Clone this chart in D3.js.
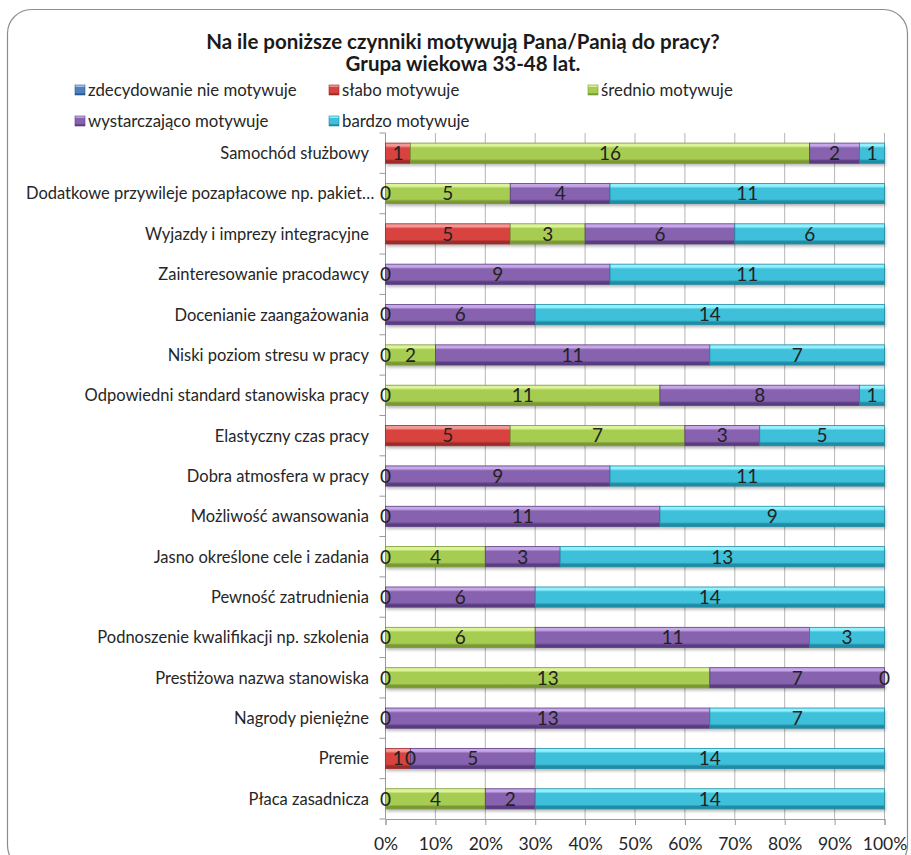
<!DOCTYPE html>
<html>
<head>
<meta charset="utf-8">
<script src="https://cdn.jsdelivr.net/npm/d3@7"></script>
<style>
  html, body { margin: 0; padding: 0; background: #fff; }
  svg { display: block; }
  text { font-family: Lato, "Open Sans", sans-serif; }
</style>
</head>
<body>
<svg id="chart" width="911" height="855"></svg>
<script>
// ---------- data ----------
const titleLines = ["Na ile poniższe czynniki motywują Pana/Panią do pracy?", "Grupa wiekowa 33-48 lat."];
const categories = [
  "Samochód służbowy",
  "Dodatkowe przywileje pozapłacowe np. pakiet…",
  "Wyjazdy i imprezy integracyjne",
  "Zainteresowanie pracodawcy",
  "Docenianie zaangażowania",
  "Niski poziom stresu w pracy",
  "Odpowiedni standard stanowiska pracy",
  "Elastyczny czas pracy",
  "Dobra atmosfera w pracy",
  "Możliwość awansowania",
  "Jasno określone cele i zadania",
  "Pewność zatrudnienia",
  "Podnoszenie kwalifikacji np. szkolenia",
  "Prestiżowa nazwa stanowiska",
  "Nagrody pieniężne",
  "Premie",
  "Płaca zasadnicza"
];
const seriesNames = ["zdecydowanie nie motywuje", "słabo motywuje", "średnio motywuje", "wystarczająco motywuje", "bardzo motywuje"];
// null = no value (no bar, no label)
const zdecydowanieNie = [null, null, null, null, null, null, null, null, null, null, null, null, null, null, null, null, null];
const slabo          = [1, 0, 5, 0, 0, 0, 0, 5, 0, 0, 0, 0, 0, 0, 0, 1, 0];
const srednio        = [16, 5, 3, null, null, 2, 11, 7, null, null, 4, null, 6, 13, null, 0, 4];
const wystarczajaco  = [2, 4, 6, 9, 6, 11, 8, 3, 9, 11, 3, 6, 11, 7, 13, 5, 2];
const bardzo         = [1, 11, 6, 11, 14, 7, 1, 5, 11, 9, 13, 14, 3, 0, 7, 14, 14];
const seriesValues = [zdecydowanieNie, slabo, srednio, wystarczajaco, bardzo];
const xTicks = [0, 0.1, 0.2, 0.3, 0.4, 0.5, 0.6, 0.7, 0.8, 0.9, 1.0];

// ---------- styles ----------
const palette = [
  {light: "#a9c6ec", base: "#4f81bd", dark: "#2d5b91"},
  {light: "#f29896", base: "#d8433f", dark: "#9c2b29"},
  {light: "#dcf39a", base: "#a6cd51", dark: "#7a9935"},
  {light: "#c6a7e8", base: "#8762ae", dark: "#5a3c80"},
  {light: "#93f1ff", base: "#3ec0da", dark: "#1e8ca4"}
];

const svg = d3.select("#chart");
const defs = svg.append("defs");
palette.forEach((c, i) => {
  const g = defs.append("linearGradient").attr("id", "grad" + i)
    .attr("x1", 0).attr("y1", 0).attr("x2", 0).attr("y2", 1);
  [[0, c.light], [0.14, c.light], [0.24, c.base], [0.78, c.base], [0.88, c.dark], [1, c.dark]]
    .forEach(([o, col]) => g.append("stop").attr("offset", o).attr("stop-color", col));
});
const blur = defs.append("filter").attr("id", "shadow").attr("x", "-10%").attr("y", "-50%").attr("width", "120%").attr("height", "200%");
blur.append("feGaussianBlur").attr("stdDeviation", 1.6);

// chart frame
svg.append("rect").attr("x", 7.5).attr("y", 9.5).attr("width", 900).attr("height", 860)
  .attr("rx", 24).attr("ry", 24).attr("fill", "#fff").attr("stroke", "#8c8c8c").attr("stroke-width", 1.2);

// title
svg.append("g").selectAll("text").data(titleLines).join("text")
  .attr("x", 463).attr("y", (d, i) => 49 + i * 22)
  .attr("text-anchor", "middle").attr("font-weight", "bold").attr("font-size", 20.5)
  .attr("fill", "#1a1a1a").text(d => d);

// legend
const legendPos = [[75, 90], [329, 90], [588, 90], [75, 121], [329, 121]];
const lg = svg.append("g").selectAll("g").data(seriesNames).join("g")
  .attr("transform", (d, i) => `translate(${legendPos[i][0]},${legendPos[i][1]})`);
lg.append("rect").attr("x", 0).attr("y", -5).attr("width", 10).attr("height", 10)
  .attr("fill", (d, i) => `url(#grad${i})`).attr("stroke", (d, i) => palette[i].dark).attr("stroke-width", 0.6);
lg.append("text").attr("x", 13).attr("y", 0).attr("dy", "0.35em").attr("font-size", 16.8)
  .attr("fill", "#262626").text(d => d);

// scales
const plot = {left: 385.5, right: 884.5, top: 133, bottom: 819};
const x = d3.scaleLinear().domain([0, 1]).range([plot.left, plot.right]);
const y = d3.scaleBand().domain(categories).range([plot.top, plot.bottom]).paddingInner(0.5).paddingOuter(0.25);

// gridlines
svg.append("g").selectAll("line").data(xTicks.slice(1)).join("line")
  .attr("x1", d => x(d)).attr("x2", d => x(d)).attr("y1", plot.top).attr("y2", plot.bottom)
  .attr("stroke", "#b5b5b5").attr("stroke-width", 1);

// bottom axis
const xAxis = svg.append("g").attr("transform", `translate(0,${plot.bottom})`)
  .call(d3.axisBottom(x).tickValues(xTicks).tickFormat(d3.format(".0%")).tickSize(6).tickPadding(13));
xAxis.select(".domain").attr("stroke", "#9a9a9a");
xAxis.selectAll(".tick line").attr("stroke", "#9a9a9a");
xAxis.selectAll("text").attr("font-size", 17.5).attr("fill", "#262626").attr("font-family", "Lato, sans-serif");

// left axis line + ticks at band boundaries
const boundaries = d3.range(categories.length + 1).map(i => plot.top + i * (plot.bottom - plot.top) / categories.length);
const ya = svg.append("g");
ya.append("line").attr("x1", plot.left).attr("x2", plot.left).attr("y1", plot.top).attr("y2", plot.bottom)
  .attr("stroke", "#9a9a9a");
ya.selectAll("line.t").data(boundaries).join("line").attr("class", "t")
  .attr("x1", plot.left - 6).attr("x2", plot.left).attr("y1", d => d).attr("y2", d => d)
  .attr("stroke", "#9a9a9a");

// stacked rows
const rows = categories.map((c, ci) => {
  const total = d3.sum(seriesValues, s => s[ci] || 0);
  let acc = 0;
  const segs = seriesValues.map((s, si) => {
    const v = s[ci];
    const x0 = acc / total;
    acc += (v || 0);
    return {cat: c, si, v, x0, x1: acc / total};
  });
  return {cat: c, segs};
});
const allSegs = rows.flatMap(r => r.segs);
const barSegs = allSegs.filter(d => d.v !== null && d.v > 0);
const bh = y.bandwidth();

// shadows
svg.append("g").selectAll("rect").data(barSegs).join("rect")
  .attr("x", d => x(d.x0) + 1).attr("y", d => y(d.cat) + 2.5)
  .attr("width", d => x(d.x1) - x(d.x0)).attr("height", bh)
  .attr("fill", "#000").attr("opacity", 0.28).attr("filter", "url(#shadow)");

// bars
svg.append("g").selectAll("rect").data(barSegs).join("rect")
  .attr("x", d => x(d.x0)).attr("y", d => y(d.cat))
  .attr("width", d => x(d.x1) - x(d.x0)).attr("height", bh)
  .attr("fill", d => `url(#grad${d.si})`)
  .attr("stroke", d => palette[d.si].dark).attr("stroke-width", 0.8);

// data labels
svg.append("g").selectAll("text").data(allSegs.filter(d => d.v !== null)).join("text")
  .attr("x", d => (x(d.x0) + x(d.x1)) / 2).attr("y", d => y(d.cat) + bh / 2)
  .attr("dy", "0.36em").attr("text-anchor", "middle").attr("font-size", 19)
  .attr("fill", "#222").text(d => d.v);

// category labels (right aligned; over-long ones start at the left limit)
const labelRight = 369, labelLeft = 26;
svg.append("g").selectAll("text").data(categories).join("text")
  .attr("x", labelRight).attr("y", d => y(d) + bh / 2).attr("dy", "0.36em")
  .attr("text-anchor", "end").attr("font-size", 16.5).attr("fill", "#262626")
  .text(d => d)
  .each(function () {
    const w = this.getComputedTextLength();
    if (w > labelRight - labelLeft) d3.select(this).attr("x", labelLeft).attr("text-anchor", "start");
  });
</script>
</body>
</html>
